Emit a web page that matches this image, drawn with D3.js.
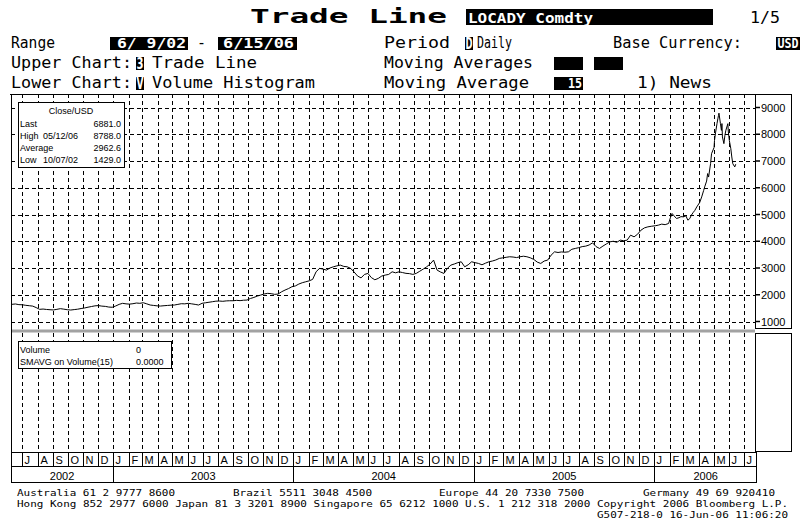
<!DOCTYPE html>
<html>
<head>
<meta charset="utf-8">
<script src="https://cdn.jsdelivr.net/npm/d3@7"></script>
<style>
  body { margin: 0; background: #fff; }
  svg { display: block; }
  .hdr { font-family: "DejaVu Sans Mono", monospace; font-size: 15px; fill: #000; }
  .inv { font-family: "DejaVu Sans Mono", monospace; font-size: 14px; font-weight: bold; fill: #fff; }
  .inv-big { font-family: "DejaVu Sans", sans-serif; font-size: 15px; font-weight: bold; fill: #fff; }
  .title { font-family: "DejaVu Sans Mono", monospace; font-size: 20px; font-weight: bold; fill: #000; }
  .grid { stroke: #000; stroke-width: 1; stroke-dasharray: 4,3; shape-rendering: crispEdges; }
  .frame { fill: none; stroke: #000; stroke-width: 1; shape-rendering: crispEdges; }
  .legend-box { fill: #fff; stroke: #000; stroke-width: 1; shape-rendering: crispEdges; }
  .small { font-family: "Liberation Sans", Arial, sans-serif; font-size: 9px; fill: #000; }
  .axis-label { font-family: "Liberation Sans", Arial, sans-serif; font-size: 11px; fill: #000; }
  .foot { font-family: "DejaVu Sans Mono", monospace; font-size: 9.5px; fill: #000; }
</style>
</head>
<body>
<script>
// closing prices (USD / tonne)
const close2002 = [
  ["2002-06-10",1642],["2002-06-17",1655],["2002-06-24",1630],["2002-07-01",1625],["2002-07-08",1605],
  ["2002-07-15",1590],["2002-07-22",1575],["2002-07-29",1520],["2002-08-05",1455],["2002-08-12",1465],
  ["2002-08-19",1450],["2002-08-26",1440],["2002-09-02",1432],["2002-09-09",1455],["2002-09-16",1480],
  ["2002-09-23",1462],["2002-09-30",1440],["2002-10-07",1429],["2002-10-14",1445],["2002-10-21",1460],
  ["2002-10-28",1485],["2002-11-04",1505],["2002-11-11",1535],["2002-11-18",1560],["2002-11-25",1585],
  ["2002-12-02",1595],["2002-12-09",1575],["2002-12-16",1565],["2002-12-23",1540],["2002-12-30",1532]
];
const close2003 = [
  ["2003-01-06",1580],["2003-01-13",1640],["2003-01-20",1679],["2003-01-27",1660],["2003-02-03",1650],
  ["2003-02-10",1665],["2003-02-17",1690],["2003-02-24",1680],["2003-03-03",1701],["2003-03-10",1660],
  ["2003-03-17",1616],["2003-03-24",1600],["2003-03-31",1585],["2003-04-07",1578],["2003-04-14",1590],
  ["2003-04-21",1600],["2003-04-28",1610],["2003-05-05",1616],["2003-05-12",1640],["2003-05-19",1665],
  ["2003-05-26",1660],["2003-06-02",1679],["2003-06-09",1660],["2003-06-16",1640],["2003-06-23",1616],
  ["2003-06-30",1680],["2003-07-07",1700],["2003-07-14",1720],["2003-07-21",1740],["2003-07-28",1760],
  ["2003-08-04",1765],["2003-08-11",1755],["2003-08-18",1770],["2003-08-25",1776],["2003-09-01",1776],
  ["2003-09-08",1790],["2003-09-15",1780],["2003-09-22",1795],["2003-09-29",1802],["2003-10-06",1860],
  ["2003-10-13",1900],["2003-10-20",1951],["2003-10-27",1990],["2003-11-03",2030],["2003-11-10",2052],
  ["2003-11-17",2040],["2003-11-24",2015],["2003-12-01",2026],["2003-12-08",2110],["2003-12-15",2175],
  ["2003-12-22",2230],["2003-12-29",2300]
];
const close2004 = [
  ["2004-01-05",2330],["2004-01-12",2400],["2004-01-19",2450],["2004-01-26",2485],["2004-02-02",2520],
  ["2004-02-09",2575],["2004-02-16",2860],["2004-02-23",2985],["2004-03-01",2960],["2004-03-08",2922],
  ["2004-03-15",3000],["2004-03-22",3045],["2004-03-29",3080],["2004-04-05",3108],["2004-04-12",3060],
  ["2004-04-19",3045],["2004-04-26",2985],["2004-05-03",2850],["2004-05-10",2700],["2004-05-17",2630],
  ["2004-05-24",2760],["2004-05-31",2797],["2004-06-07",2640],["2004-06-14",2560],["2004-06-21",2612],
  ["2004-06-28",2700],["2004-07-05",2735],["2004-07-12",2760],["2004-07-19",2858],["2004-07-26",2820],
  ["2004-08-02",2858],["2004-08-09",2830],["2004-08-16",2800],["2004-08-23",2790],["2004-08-30",2761],
  ["2004-09-06",2800],["2004-09-13",2880],["2004-09-20",2960],["2004-09-27",3045],["2004-10-04",3150],
  ["2004-10-11",3295],["2004-10-18",2922],["2004-10-25",2850],["2004-11-01",2797],["2004-11-08",2990],
  ["2004-11-15",3108],["2004-11-22",3150],["2004-11-29",3200],["2004-12-06",3232],["2004-12-13",3045],
  ["2004-12-20",3120],["2004-12-27",3232]
];
const close2005 = [
  ["2005-01-03",3200],["2005-01-10",3170],["2005-01-17",3120],["2005-01-24",3180],["2005-01-31",3232],
  ["2005-02-07",3260],["2005-02-14",3300],["2005-02-21",3358],["2005-02-28",3380],["2005-03-07",3400],
  ["2005-03-14",3420],["2005-03-21",3410],["2005-03-28",3390],["2005-04-04",3420],["2005-04-11",3440],
  ["2005-04-18",3420],["2005-04-25",3380],["2005-05-02",3320],["2005-05-09",3220],["2005-05-16",3170],
  ["2005-05-23",3260],["2005-05-30",3295],["2005-06-06",3480],["2005-06-13",3605],["2005-06-20",3580],
  ["2005-06-27",3600],["2005-07-04",3590],["2005-07-11",3605],["2005-07-18",3700],["2005-07-25",3731],
  ["2005-08-01",3760],["2005-08-08",3800],["2005-08-15",3817],["2005-08-22",3860],["2005-08-29",3940],
  ["2005-09-05",3800],["2005-09-12",3731],["2005-09-19",3820],["2005-09-26",3900],["2005-10-03",3978],
  ["2005-10-10",4000],["2005-10-17",3960],["2005-10-24",4041],["2005-10-31",4020],["2005-11-07",4041],
  ["2005-11-14",4228],["2005-11-21",4165],["2005-11-28",4260],["2005-12-05",4414],["2005-12-12",4500],
  ["2005-12-19",4538],["2005-12-26",4560]
];
const close2006 = [
  ["2006-01-03",4580],["2006-01-09",4601],["2006-01-16",4640],["2006-01-23",4620],["2006-01-30",4664],
  ["2006-02-03",4900],["2006-02-06",5037],["2006-02-10",4950],["2006-02-15",4851],["2006-02-20",4880],
  ["2006-02-24",4920],["2006-03-01",4912],["2006-03-06",4950],["2006-03-10",4787],["2006-03-14",4850],
  ["2006-03-17",4974],["2006-03-21",5080],["2006-03-24",5150],["2006-03-28",5283],["2006-04-03",5450],
  ["2006-04-07",5657],["2006-04-11",5900],["2006-04-13",6030],["2006-04-17",6250],["2006-04-19",6530],
  ["2006-04-21",6400],["2006-04-25",6900],["2006-04-27",7275],["2006-05-02",7500],["2006-05-03",7772],
  ["2006-05-05",8050],["2006-05-08",8396],["2006-05-10",8600],["2006-05-11",8700],["2006-05-12",8788],
  ["2006-05-15",8396],["2006-05-17",8146],["2006-05-18",8400],["2006-05-19",7900],["2006-05-22",7649],
  ["2006-05-24",7959],["2006-05-26",8150],["2006-05-30",8396],["2006-05-31",8085],["2006-06-02",7772],
  ["2006-06-05",7460],["2006-06-07",7150],["2006-06-09",6900],["2006-06-13",6778],["2006-06-15",6881]
];

const priceTicks = [1000, 2000, 3000, 4000, 5000, 6000, 7000, 8000, 9000];
const monthLetters = ["J", "F", "M", "A", "M", "J", "J", "A", "S", "O", "N", "D"];
const yearLabels = [2002, 2003, 2004, 2005, 2006];
const closeStats = [
  ["Last", "", "6881.0"],
  ["High", "05/12/06", "8788.0"],
  ["Average", "", "2962.6"],
  ["Low", "10/07/02", "1429.0"]
];
const volumeStats = [["Volume", "0"], ["SMAVG on Volume(15)", "0.0000"]];

const parseDate = d3.timeParse("%Y-%m-%d");
const closeSeries = [...close2002, ...close2003, ...close2004, ...close2005, ...close2006]
  .map(([d, v]) => ({ date: parseDate(d), value: v }));

const W = 806, H = 525;
const X0 = 11, X1 = 755.5;
const TOP = 94, UP_BOTTOM = 329, LOW_TOP = 333, LOW_BOTTOM = 452;
const MONTH_BOTTOM = 467, YEAR_BOTTOM = 483, BOX_RIGHT = 792;

const svg = d3.select("body").append("svg").attr("width", W).attr("height", H);
svg.append("rect").attr("width", W).attr("height", H).attr("fill", "#fff");

const x = d3.scaleTime()
  .domain([new Date(2002, 5, 8), new Date(2006, 6, 25)])
  .range([X0, X1]);
const y = d3.scaleLinear().domain([1000, 9000]).range([321.5, 107.5]);
const px = (v) => Math.round(v) + 0.5;

const months = d3.timeMonth.range(new Date(2002, 6, 1), new Date(2006, 6, 2));
const yearStarts = d3.timeYear.range(new Date(2003, 0, 1), new Date(2006, 0, 2));

function addText(g, xPos, yPos, str, cls, len) {
  const t = g.append("text").attr("x", xPos).attr("y", yPos).attr("class", cls).text(str);
  if (len) t.attr("textLength", len).attr("lengthAdjust", "spacingAndGlyphs");
  return t;
}
function blackBox(g, x0, y0, x1, y1) {
  g.append("rect").attr("x", x0).attr("y", y0).attr("width", x1 - x0).attr("height", y1 - y0).attr("fill", "#000");
}

// header
const hdr = svg.append("g");
addText(hdr, 250, 23, "Trade Line", "title", 197);
blackBox(hdr, 466, 9, 713, 25);
addText(hdr, 468, 23, "LOCADY Comdty", "inv", 125);
addText(hdr, 750, 23, "1/5", "hdr", 30);

addText(hdr, 11, 48, "Range", "hdr", 44);
blackBox(hdr, 110, 37, 188, 50);
addText(hdr, 117, 48, "6/ 9/02", "inv", 69);
addText(hdr, 197, 48, "-", "hdr", 9);
blackBox(hdr, 218, 37, 297, 50);
addText(hdr, 223, 48, "6/15/06", "inv", 71);
addText(hdr, 384, 48, "Period", "hdr", 66);
blackBox(hdr, 465, 37, 473, 50);
addText(hdr, 465.5, 49, "D", "inv-big", 7);
addText(hdr, 477, 48, "Daily", "hdr", 35);
addText(hdr, 613, 48, "Base Currency:", "hdr", 129);
blackBox(hdr, 776, 37, 800, 50);
addText(hdr, 777.5, 48, "USD", "inv", 21);

addText(hdr, 11, 68, "Upper Chart:", "hdr", 121);
blackBox(hdr, 136, 57, 144, 70);
addText(hdr, 136.5, 69, "3", "inv-big", 7);
addText(hdr, 152, 68, "Trade Line", "hdr", 105);
addText(hdr, 384, 68, "Moving Averages", "hdr", 149);
blackBox(hdr, 554, 57, 583, 70);
blackBox(hdr, 594, 57, 623, 70);

addText(hdr, 11, 88, "Lower Chart:", "hdr", 121);
blackBox(hdr, 136, 77, 144, 90);
addText(hdr, 136.5, 89, "V", "inv-big", 7);
addText(hdr, 152, 88, "Volume Histogram", "hdr", 163);
addText(hdr, 384, 88, "Moving Average", "hdr", 145);
blackBox(hdr, 554, 77, 583, 90);
addText(hdr, 568, 88, "15", "inv", 14);
addText(hdr, 637, 88, "1) News", "hdr", 75);

// grid
const grid = svg.append("g");
grid.selectAll(null).data(months).enter().append("line")
  .attr("class", "grid")
  .attr("x1", (d) => px(x(d))).attr("x2", (d) => px(x(d)))
  .attr("y1", TOP).attr("y2", UP_BOTTOM);
grid.selectAll(null).data(months).enter().append("line")
  .attr("class", "grid")
  .attr("x1", (d) => px(x(d))).attr("x2", (d) => px(x(d)))
  .attr("y1", LOW_TOP).attr("y2", LOW_BOTTOM);
grid.selectAll(null).data(priceTicks).enter().append("line")
  .attr("class", "grid")
  .attr("x1", X0).attr("x2", 755)
  .attr("y1", (d) => px(y(d))).attr("y2", (d) => px(y(d)));

// price line
svg.append("path")
  .datum(closeSeries)
  .attr("fill", "none")
  .attr("stroke", "#000")
  .attr("stroke-width", 1)
  .attr("d", d3.line().x((d) => x(d.date)).y((d) => y(d.value)));

// frames
const frame = svg.append("g");
frame.append("line").attr("class", "frame").attr("x1", 10).attr("x2", BOX_RIGHT).attr("y1", TOP + 0.5).attr("y2", TOP + 0.5);
frame.append("line").attr("class", "frame").attr("x1", X0 + 0.5).attr("x2", X0 + 0.5).attr("y1", TOP).attr("y2", YEAR_BOTTOM);
frame.append("rect").attr("class", "frame").attr("x", 755.5).attr("y", TOP + 0.5).attr("width", 36).attr("height", 234);
frame.append("rect").attr("class", "frame").attr("x", 755.5).attr("y", LOW_TOP + 0.5).attr("width", 36).attr("height", 118);
frame.append("line")
  .attr("x1", X0 + 1).attr("x2", 755).attr("y1", 331).attr("y2", 331)
  .attr("stroke", "#a2a2a2").attr("stroke-width", 3);

// right price axis
const axis = svg.append("g");
axis.selectAll(null).data(priceTicks).enter().append("line")
  .attr("x1", 755).attr("x2", 760)
  .attr("y1", (d) => y(d)).attr("y2", (d) => y(d))
  .attr("stroke", "#000").attr("stroke-width", 1.5);
axis.selectAll(null).data(priceTicks).enter().append("text")
  .attr("class", "axis-label")
  .attr("x", 761)
  .attr("y", (d) => y(d) + 4)
  .text((d) => d);

// time axis rows
const tAxis = svg.append("g");
tAxis.append("rect").attr("class", "frame").attr("x", X0 + 0.5).attr("y", LOW_BOTTOM + 0.5)
  .attr("width", 745).attr("height", YEAR_BOTTOM - LOW_BOTTOM - 1);
tAxis.append("line").attr("class", "frame").attr("x1", X0).attr("x2", 757)
  .attr("y1", MONTH_BOTTOM - 0.5).attr("y2", MONTH_BOTTOM - 0.5);
tAxis.selectAll(null).data(months).enter().append("line")
  .attr("class", "frame")
  .attr("x1", (d) => px(x(d))).attr("x2", (d) => px(x(d)))
  .attr("y1", LOW_BOTTOM).attr("y2", MONTH_BOTTOM);
tAxis.selectAll(null).data(months).enter().append("text")
  .attr("class", "axis-label")
  .attr("x", (d) => px(x(d)) + 2)
  .attr("y", 464)
  .text((d) => monthLetters[d.getMonth()]);
tAxis.selectAll(null).data(yearStarts).enter().append("line")
  .attr("class", "frame")
  .attr("x1", (d) => px(x(d))).attr("x2", (d) => px(x(d)))
  .attr("y1", MONTH_BOTTOM).attr("y2", YEAR_BOTTOM);
const yearEdges = [X0, ...yearStarts.map((d) => x(d)), 757];
tAxis.selectAll(null).data(yearLabels).enter().append("text")
  .attr("class", "axis-label")
  .attr("text-anchor", "middle")
  .attr("x", (d, i) => (yearEdges[i] + yearEdges[i + 1]) / 2)
  .attr("y", 480)
  .text((d) => d);

// close legend
const closeLegend = svg.append("g");
closeLegend.append("rect").attr("class", "legend-box")
  .attr("x", 18.5).attr("y", 102.5).attr("width", 106).attr("height", 65);
addText(closeLegend, 71, 114, "Close/USD", "small").attr("text-anchor", "middle");
closeLegend.selectAll(null).data(closeStats).enter().append("g")
  .attr("transform", (d, i) => `translate(0,${126.5 + i * 12.2})`)
  .call((g) => g.append("text").attr("class", "small").attr("x", 20).text((d) => d[0]))
  .call((g) => g.append("text").attr("class", "small").attr("x", 43).text((d) => d[1]))
  .call((g) => g.append("text").attr("class", "small").attr("x", 121).attr("text-anchor", "end").text((d) => d[2]));

// volume legend
const volLegend = svg.append("g");
volLegend.append("rect").attr("class", "legend-box")
  .attr("x", 18.5).attr("y", 341.5).attr("width", 153).attr("height", 27);
volLegend.selectAll(null).data(volumeStats).enter().append("g")
  .attr("transform", (d, i) => `translate(0,${353 + i * 11.5})`)
  .call((g) => g.append("text").attr("class", "small").attr("x", 20).text((d) => d[0]))
  .call((g) => g.append("text").attr("class", "small").attr("x", 136).text((d) => d[1]));

// footer
const foot = svg.append("g");
addText(foot, 17, 496, "Australia 61 2 9777 8600", "foot", 158);
addText(foot, 233, 496, "Brazil 5511 3048 4500", "foot", 139);
addText(foot, 439, 496, "Europe 44 20 7330 7500", "foot", 145);
addText(foot, 643, 496, "Germany 49 69 920410", "foot", 132);
addText(foot, 17, 507,
  "Hong Kong 852 2977 6000 Japan 81 3 3201 8900 Singapore 65 6212 1000 U.S. 1 212 318 2000 Copyright 2006 Bloomberg L.P.",
  "foot", 771);
addText(foot, 597, 518, "G507-218-0 16-Jun-06 11:06:20", "foot", 191);
</script>
</body>
</html>
